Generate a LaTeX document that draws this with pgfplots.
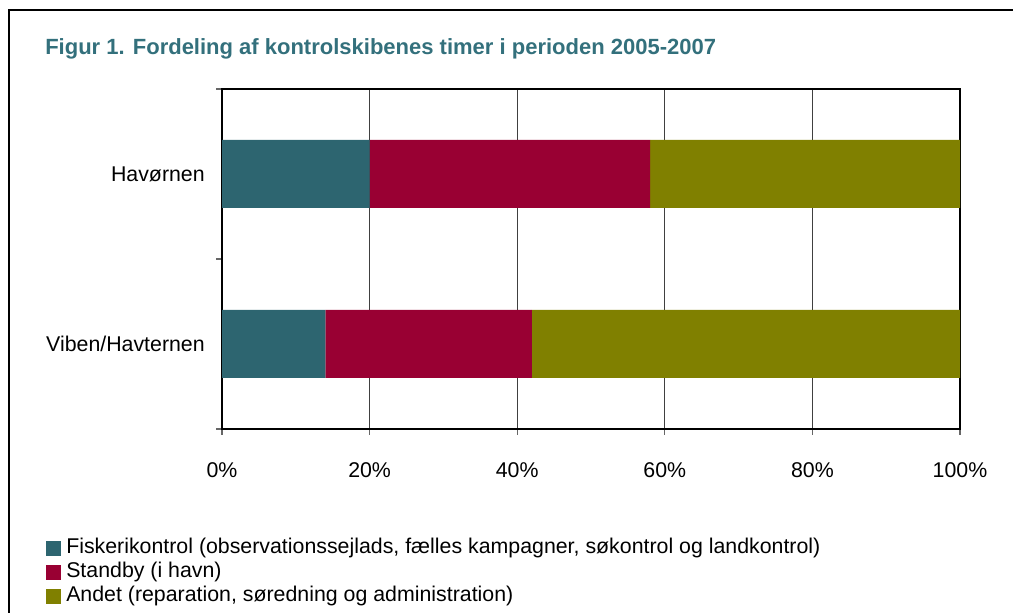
\documentclass[border=0pt]{standalone}
\usepackage{fontspec}
\setmainfont{Liberation Sans}
\usepackage{pgfplots}
\pgfplotsset{compat=1.18}
\definecolor{cTeal}{RGB}{45,101,112}
\definecolor{cRed}{RGB}{153,0,51}
\definecolor{cOlive}{RGB}{128,128,0}
\definecolor{cTitle}{RGB}{51,112,124}
\begin{document}
\begin{tikzpicture}
\path[use as bounding box] (0pt,0pt) rectangle (759.75pt,459.75pt);
\draw[line width=1.5pt] (6.4pt,-2pt) -- (6.4pt,451.9pt) -- (762pt,451.9pt);
\node[anchor=base west, font=\bfseries\fontsize{16.5}{19}\selectfont, text=cTitle, inner sep=0pt] at (33.75pt,418.5pt) {Figur 1. Fordeling af kontrolskibenes timer i perioden 2005-2007};
\begin{axis}[
  at={(166.5pt,138pt)}, anchor=south west,
  scale only axis, width=553.5pt, height=255pt,
  xbar stacked, bar width=51pt,
  xmin=0, xmax=100, ymin=-0.5, ymax=1.5,
  xtick={0,20,40,60,80,100},
  xticklabels={0\%,20\%,40\%,60\%,80\%,100\%},
  xmajorgrids, grid style={line width=0.6pt, black!75},
  ytick={-0.5,0.5,1.5}, yticklabels={},
  extra y ticks={0,1},
  extra y tick labels={Viben/Havternen,Havørnen},
  extra y tick style={major tick length=0pt, grid=none},
  xtick pos=bottom, ytick pos=left,
  tick align=outside, major tick length=4.5pt,
  tick style={line width=0.8pt, black!60},
  axis line style={line width=1.1pt, black},
  ticklabel style={font=\fontsize{16}{19}\selectfont},
  xticklabel style={anchor=center, yshift=-26.25pt, inner sep=0pt},
  yticklabel style={anchor=east, inner sep=0pt, xshift=-12.75pt},
  legend style={draw=none, fill=none, at={(-0.2439,-0.315)}, anchor=north west,
    font=\fontsize{16}{19}\selectfont, row sep=4pt,
    nodes={inner sep=0pt, text height=11pt, text depth=3pt}},
  legend cell align=left,
  legend image code/.code={\fill[#1] (0pt,-5.6pt) rectangle (11.25pt,5.6pt);},
  /tikz/every odd column/.append style={column sep=3.75pt},
]
\addplot[fill=cTeal, draw=none] coordinates {(14,0) (20,1)};
\addplot[fill=cRed, draw=none] coordinates {(28,0) (38,1)};
\addplot[fill=cOlive, draw=none] coordinates {(58,0) (42,1)};
\legend{{Fiskerikontrol (observationssejlads, fælles kampagner, søkontrol og landkontrol)},{Standby (i havn)},{Andet (reparation, søredning og administration)}}
\end{axis}
\end{tikzpicture}
\end{document}
